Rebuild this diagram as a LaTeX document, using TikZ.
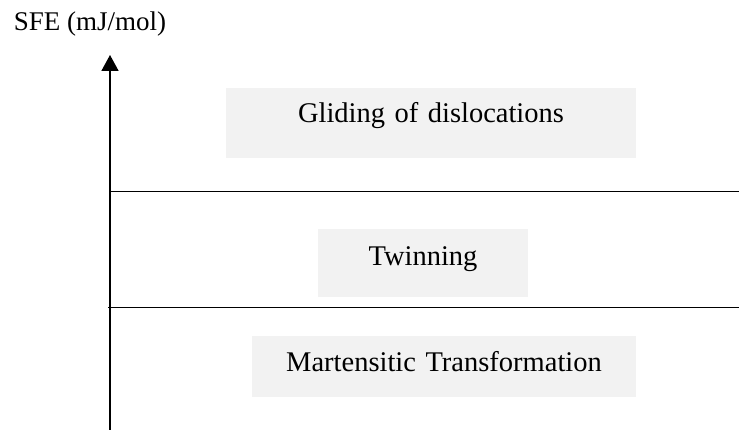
\documentclass[tikz,border=0pt]{standalone}
\usepackage{fontspec}
\setmainfont{Liberation Serif}
\usepackage{tikz}
\usetikzlibrary{arrows.meta}

\begin{document}
\begin{tikzpicture}[x=1pt,y=-1pt,line width=1.6pt,
    regime/.style={fill=black!5,inner sep=0pt,anchor=base,align=center,
      font=\fontsize{28.5}{34}\selectfont}]
    \useasboundingbox (0,0) rectangle (739,430);
    % axis
    \coordinate (base) at (110,430);
    \coordinate (tip) at (110,55);
    \draw[-{Triangle[length=16pt,width=17pt]}] (base) -- (tip);
    \node (sfe) [anchor=base west,inner sep=0pt,font=\fontsize{27}{32}\selectfont] at (13,31) {SFE (mJ/mol)};
    % boundaries
    \coordinate (b1l) at (110,191.5);
    \coordinate (b1r) at (739,191.5);
    \coordinate (b2l) at (108,307.5);
    \coordinate (b2r) at (739,307.5);
    \draw (b1l) -- (b1r);
    \draw (b2l) -- (b2r);
    % mechanisms
    \node (glide) [regime,text width=410pt,text height=35pt,text depth=35.5pt] at (431,123) {Gliding of dislocations};
    \node (twin) [regime,text width=210pt,text height=36.5pt,text depth=31pt] at (423,265.7) {Twinning};
    \node (mart) [regime,text width=384pt,text height=36pt,text depth=25.3pt] at (444,371.7) {Martensitic Transformation};
\end{tikzpicture}
\end{document}
